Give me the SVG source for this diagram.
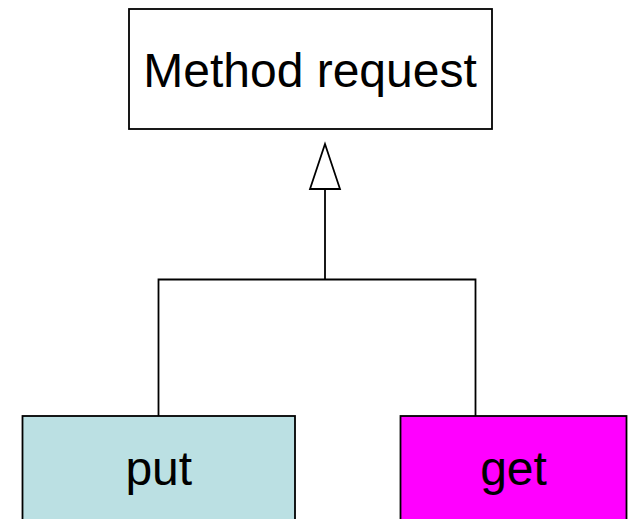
<svg xmlns="http://www.w3.org/2000/svg" width="631" height="519" viewBox="0 0 631 519">
  <style>
    .box { stroke: #000; stroke-width: 1.8; }
    .label { font-family: "Liberation Sans", Arial, sans-serif; font-size: 48px; fill: #000; text-anchor: middle; }
    .wire { fill: none; stroke: #000; stroke-width: 1.8; }
    .head { fill: #fff; stroke: #000; stroke-width: 1.8; stroke-linejoin: miter; }
  </style>

  <g id="method-request">
    <rect class="box" x="129" y="9" width="363" height="120" fill="#fff"/>
    <text class="label" x="310" y="87">Method request</text>
  </g>

  <g id="put">
    <rect class="box" x="22.5" y="416" width="272.5" height="120" fill="#BBE0E3"/>
    <text class="label" x="158.75" y="485">put</text>
  </g>

  <g id="get">
    <rect class="box" x="400.5" y="416" width="226" height="120" fill="#FF00FF"/>
    <text class="label" x="513.5" y="485">get</text>
  </g>

  <g id="connectors">
    <!-- branch joining both subclasses -->
    <polyline class="wire" points="158.5,416 158.5,279.5 475.5,279.5 475.5,416"/>
    <line class="wire" x1="325" y1="279.5" x2="325" y2="189"/>
    <!-- hollow generalization triangle -->
    <path class="head" d="M325 144 L310 189 L340 189 Z"/>
  </g>
</svg>
